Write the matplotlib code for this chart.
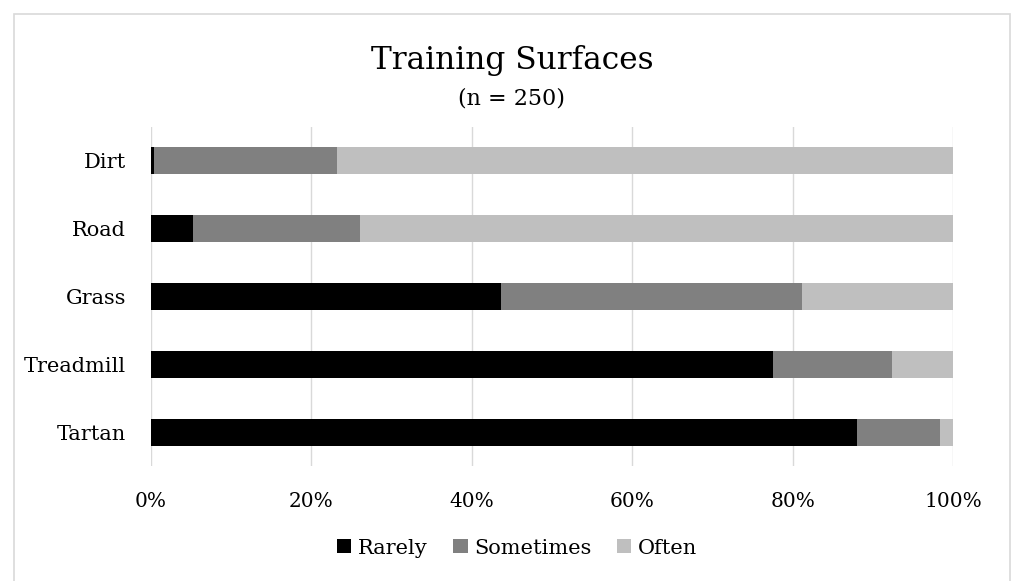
import matplotlib
matplotlib.use("Agg")
import matplotlib.pyplot as plt
from matplotlib.patches import Rectangle
from matplotlib.ticker import PercentFormatter
import numpy as np

surfaces = ["Tartan", "Treadmill", "Grass", "Road", "Dirt"]
rarely = [88.0, 77.6, 43.6, 5.2, 0.4]
sometimes = [10.4, 14.8, 37.6, 20.8, 22.8]
often = [1.6, 7.6, 18.8, 74.0, 76.8]

series = ["Rarely", "Sometimes", "Often"]
colors = ["#000000", "#808080", "#bfbfbf"]

FONT = "DejaVu Serif"
plt.rcParams["font.family"] = FONT

fig = plt.figure(figsize=(10.16, 5.81), dpi=100)
W, H = 1016, 581
ax = fig.add_axes([151 / W, 1 - 466 / H, (953 - 151) / W, (466 - 127) / H])

y = np.arange(len(surfaces))
left = np.zeros(len(surfaces))
for name, vals, col in zip(series, [rarely, sometimes, often], colors):
    ax.barh(y, vals, left=left, height=0.4, color=col, label=name, zorder=3)
    left += np.array(vals)

ax.set_xlim(0, 100)
ax.set_ylim(-0.5, len(surfaces) - 0.5)
ax.set_xticks(np.arange(0, 101, 20))
ax.xaxis.set_major_formatter(PercentFormatter(decimals=0))
ax.set_yticks(y)
ax.set_yticklabels(surfaces)
ax.grid(axis="x", color="#d9d9d9", linewidth=1.0, zorder=0)
for s in ax.spines.values():
    s.set_visible(False)
ax.tick_params(length=0, colors="black")
ax.tick_params(axis="x", labelsize=14.5, pad=19)
ax.tick_params(axis="y", labelsize=15, pad=18)

# titles
fig.text(512 / W, 1 - 60 / H, "Training Surfaces", ha="center", va="center", fontsize=22.5)
fig.text(512 / W, 1 - 98 / H, "(n = 250)", ha="center", va="center", fontsize=16)

leg = fig.legend(loc="center", bbox_to_anchor=(517 / W, 1 - 548 / H), ncol=3, frameon=False,
                 fontsize=15, handlelength=0.68, handleheight=0.68, handletextpad=0.3,
                 columnspacing=1.25)

# chart border
fig.patches.append(Rectangle((13.5 / W, -0.1), (1010 - 13.5) / W, 1.1 - 13.5 / H,
                             transform=fig.transFigure, fill=False,
                             edgecolor="#d9d9d9", linewidth=1.2))

fig.savefig("out.png", dpi=100)
